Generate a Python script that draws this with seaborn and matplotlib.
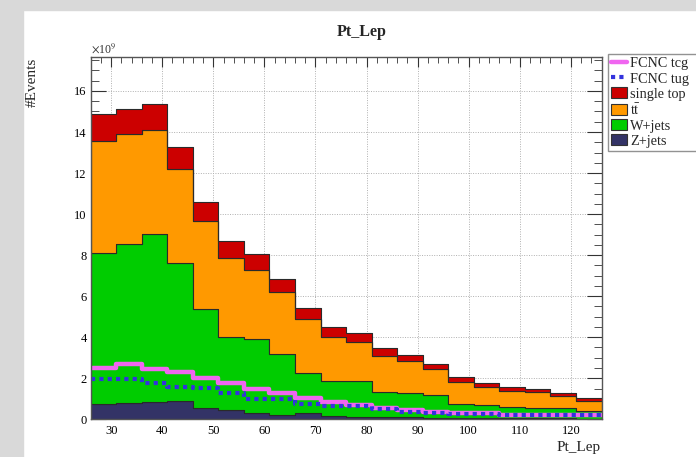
import numpy as np
import pandas as pd
import matplotlib
matplotlib.use("Agg")
import matplotlib.pyplot as plt
import seaborn as sns
from matplotlib.lines import Line2D
from matplotlib.patches import Patch, Rectangle
from matplotlib.ticker import MultipleLocator

# ---- data (units of 1e9 events), bins of 5 GeV from 26 to 126 ----
bin_edges = list(range(26, 127, 5))
z_jets = [0.73, 0.81, 0.86, 0.88, 0.57, 0.45, 0.32, 0.21, 0.32, 0.16,
          0.13, 0.11, 0.10, 0.08, 0.06, 0.05, 0.05, 0.04, 0.04, 0.03]
w_jets = [7.36, 7.73, 8.16, 6.72, 4.81, 3.55, 3.58, 2.99, 1.92, 1.69,
          1.72, 1.22, 1.17, 1.10, 0.69, 0.65, 0.57, 0.53, 0.49, 0.36]
ttbar = [5.49, 5.35, 5.08, 4.58, 4.27, 3.86, 3.39, 3.00, 2.63, 2.15,
         1.93, 1.75, 1.57, 1.29, 1.05, 0.89, 0.78, 0.76, 0.61, 0.52]
single_top = [1.30, 1.25, 1.25, 1.09, 0.94, 0.84, 0.77, 0.62, 0.57, 0.48,
              0.44, 0.38, 0.28, 0.24, 0.26, 0.19, 0.17, 0.15, 0.13, 0.13]
fcnc_tcg = [2.49, 2.69, 2.45, 2.29, 2.03, 1.75, 1.46, 1.30, 1.02, 0.86,
            0.72, 0.55, 0.45, 0.37, 0.30, 0.29, 0.22, 0.21, 0.21, 0.21]
fcnc_tug = [1.96, 1.94, 1.78, 1.59, 1.54, 1.30, 1.00, 1.00, 0.76, 0.65,
            0.65, 0.48, 0.38, 0.33, 0.28, 0.27, 0.21, 0.19, 0.19, 0.19]

stack_order = ["single top", "tt", "W+jets", "Z+jets"]  # top -> bottom
colors = {"single top": "#cc0000", "tt": "#ff9900",
          "W+jets": "#00cc00", "Z+jets": "#333366"}
col_tcg = "#f066f0"
col_tug = "#3333dd"

edges = np.array(bin_edges, dtype=float)
centers = edges[:-1] + 2.5
brange = (float(edges[0]), float(edges[-1]))

rows = []
for name, vals in [("single top", single_top), ("tt", ttbar),
                   ("W+jets", w_jets), ("Z+jets", z_jets)]:
    for c, v in zip(centers, vals):
        rows.append({"x": c, "w": v, "process": name})
df = pd.DataFrame(rows)
df_tcg = pd.DataFrame({"x": centers, "w": fcnc_tcg})
df_tug = pd.DataFrame({"x": centers, "w": fcnc_tug})

sns.set_style("ticks")
plt.rcParams["font.family"] = ["Liberation Serif", "DejaVu Serif"]
plt.rcParams["mathtext.fontset"] = "stix"

W, H = 696, 457
fig = plt.figure(figsize=(W / 100, H / 100), dpi=100)
fig.patch.set_facecolor("white")
fig.patches.append(Rectangle((0, 0), 23 / W, 1, transform=fig.transFigure,
                             color="#d9d9d9", zorder=-10))
fig.patches.append(Rectangle((0, 1 - 10 / H), 1, 10 / H, transform=fig.transFigure,
                             color="#d9d9d9", zorder=-10))

ax = fig.add_axes([90.7 / W, 1 - 419.3 / H, (601.5 - 90.7) / W, (419.3 - 56.7) / H])

sns.histplot(data=df, x="x", weights="w", hue="process", hue_order=stack_order,
             binwidth=5, binrange=brange, multiple="stack", element="step", fill=True,
             palette=colors, alpha=1, edgecolor="#2a2a2a", linewidth=0.8,
             legend=False, ax=ax)

sns.histplot(data=df_tcg, x="x", weights="w", binwidth=5, binrange=brange,
             element="step", fill=False, color=col_tcg, linewidth=3.2, ax=ax)
sns.histplot(data=df_tug, x="x", weights="w", binwidth=5, binrange=brange,
             element="step", fill=False, color=col_tug, linewidth=3.0,
             linestyle=(0, (1, 1)), ax=ax)

ax.set_xlim(26, 126)
ax.set_ylim(0, 17.67)
ax.set_xlabel("")
ax.set_ylabel("")
ax.xaxis.set_major_locator(MultipleLocator(10))
ax.xaxis.set_minor_locator(MultipleLocator(2))
ax.yaxis.set_major_locator(MultipleLocator(2))
ax.yaxis.set_minor_locator(MultipleLocator(0.5))
ax.grid(True, which="major", color="#b0b0b0", linestyle=(0, (1, 1.5)), linewidth=0.7)
for coll in ax.collections:
    coll.set_zorder(2)
for ln in ax.lines:
    ln.set_zorder(3)
ax.tick_params(axis="both", which="both", direction="in", top=True, right=True,
               colors="#333333", labelcolor="black", labelsize=9)
ax.tick_params(axis="x", which="major", length=7, pad=4)
ax.tick_params(axis="x", which="minor", length=4)
ax.tick_params(axis="y", which="major", length=11, pad=3)
ax.tick_params(axis="y", which="minor", length=6)
for s in ax.spines.values():
    s.set_color("#555555")
    s.set_linewidth(1.0)
    s.set_zorder(5)
ax.set_facecolor("white")

ax.text(0.0, 1.004, r"$\times$10$^{9}$", transform=ax.transAxes, ha="left",
        va="bottom", fontsize=8.5, color="#333333")

fig.text(362 / W, 1 - 32 / H, "Pt_Lep", ha="center", va="center",
         fontsize=11.5, fontweight="bold")
fig.text(32 / W, 1 - 82 / H, "#Events", ha="center", va="center",
         rotation=90, fontsize=11)
fig.text(601 / W, 1 - 447 / H, "Pt_Lep", ha="right", va="center", fontsize=11)

handles = [
    Line2D([0], [0], color=col_tcg, lw=3.2),
    Line2D([0], [0], color=col_tug, lw=3.0, linestyle=(0, (1, 1))),
    Patch(facecolor=colors["single top"], edgecolor="#333333", lw=0.8),
    Patch(facecolor=colors["tt"], edgecolor="#333333", lw=0.8),
    Patch(facecolor=colors["W+jets"], edgecolor="#333333", lw=0.8),
    Patch(facecolor=colors["Z+jets"], edgecolor="#333333", lw=0.8),
]
labels = ["FCNC tcg", "FCNC tug", "single top", r"t$\bar{\mathrm{t}}$", "W+jets", "Z+jets"]
leg = fig.legend(handles, labels, loc="upper left",
                 bbox_to_anchor=(608 / W, 1 - 148 / H, 96 / W, 94 / H), mode="expand",
                 frameon=True, fancybox=False, fontsize=10.3, labelspacing=0.1,
                 borderpad=0.2, handlelength=1.12, handleheight=0.84,
                 handletextpad=0.25, borderaxespad=0)
leg.get_frame().set_edgecolor("#777777")
leg.get_frame().set_linewidth(1.0)

fig.savefig("out.png", dpi=100, facecolor=fig.get_facecolor())
